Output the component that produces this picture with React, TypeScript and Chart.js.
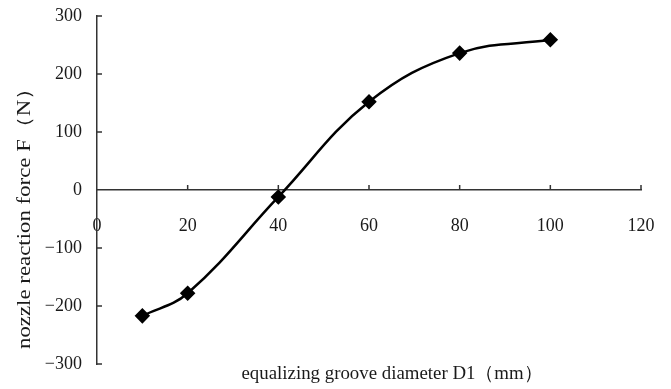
import React, { useEffect, useRef } from "react";
import { Chart, registerables } from "chart.js";

Chart.register(...registerables);

const diameters = [10, 20, 40, 60, 80, 100];
const forces = [-217, -178, -12, 152, 236, 259];
const xTicks = [0, 20, 40, 60, 80, 100, 120];
const yTicks = [-300, -200, -100, 0, 100, 200, 300];
const xTitle = "equalizing groove diameter D1（mm）";
const yTitle = "nozzle reaction force F（N）";

const FONT = "'Liberation Serif', 'DejaVu Serif', serif";
const AXIS_COLOR = "#333333";

function drawFitted(ctx: any, text: string, width: number) {
  const w = ctx.measureText(text).width;
  ctx.save();
  ctx.scale(width / w, 1);
  ctx.fillText(text, 0, 0);
  ctx.restore();
}

const extras = {
  id: "extras",
  afterDraw(chart: any) {
    const ctx = chart.ctx;
    const xs = chart.scales.x;
    const ys = chart.scales.y;
    const x0 = xs.getPixelForValue(0);
    const y0 = ys.getPixelForValue(0);
    ctx.save();
    ctx.strokeStyle = AXIS_COLOR;
    ctx.lineWidth = 1.5;
    ctx.beginPath();
    yTicks.forEach((v) => {
      if (v === 0) return;
      const p = ys.getPixelForValue(v);
      ctx.moveTo(x0, p);
      ctx.lineTo(x0 + 5, p);
    });
    xTicks.forEach((v) => {
      if (v === 0) return;
      const p = xs.getPixelForValue(v);
      ctx.moveTo(p, y0);
      ctx.lineTo(p, y0 - 5);
    });
    ctx.stroke();
    ctx.fillStyle = "#1a1a1a";
    ctx.font = `19px ${FONT}`;
    ctx.textAlign = "center";
    ctx.textBaseline = "middle";
    ctx.save();
    ctx.translate(392, 374);
    drawFitted(ctx, xTitle, 301);
    ctx.restore();
    ctx.save();
    ctx.translate(25, 213);
    ctx.rotate(-Math.PI / 2);
    drawFitted(ctx, yTitle, 272);
    ctx.restore();
    ctx.restore();
  },
};

const fmt = (v: any) => String(v).replace("-", "\u2212");

export default function App() {
  const ref = useRef<HTMLCanvasElement>(null);
  useEffect(() => {
    document.body.style.margin = "0";
    const chart = new Chart(ref.current!, {
      type: "line",
      data: {
        datasets: [
          {
            data: diameters.map((d, i) => ({ x: d, y: forces[i] })),
            borderColor: "#000",
            backgroundColor: "#000",
            borderWidth: 2.5,
            pointStyle: "rectRot",
            pointRadius: 6,
            pointHoverRadius: 6,
            tension: 0.4,
            fill: false,
          },
        ],
      },
      options: {
        animation: false,
        responsive: false,
        layout: { padding: { top: 16, right: 30, bottom: 25, left: 0 } },
        plugins: { legend: { display: false }, tooltip: { enabled: false } },
        scales: {
          x: {
            type: "linear",
            position: { y: 0 } as any,
            min: 0,
            max: 120,
            afterBuildTicks: (s: any) => {
              s.ticks = xTicks.map((v) => ({ value: v }));
            },
            afterFit: (s: any) => {
              s.paddingLeft = 0;
              s.paddingRight = 0;
            },
            grid: { display: true, drawOnChartArea: false, drawTicks: false },
            border: { color: AXIS_COLOR, width: 1.5 },
            ticks: { padding: 25, color: "#1a1a1a", font: { family: FONT, size: 18 }, callback: fmt },
          },
          y: {
            type: "linear",
            position: "left",
            min: -300,
            max: 300,
            afterBuildTicks: (s: any) => {
              s.ticks = yTicks.map((v) => ({ value: v }));
            },
            afterFit: (s: any) => {
              s.width = 97;
              s.paddingTop = 0;
              s.paddingBottom = 0;
            },
            grid: { display: true, drawOnChartArea: false, drawTicks: false },
            border: { color: AXIS_COLOR, width: 1.5 },
            ticks: { padding: 15, color: "#1a1a1a", font: { family: FONT, size: 18 }, callback: fmt },
          },
        },
      },
      plugins: [extras],
    });
    return () => chart.destroy();
  }, []);
  return (
    <div style={{ position: "absolute", left: 0, top: 0, width: 671, height: 389 }}>
      <canvas ref={ref} width={671} height={389} />
    </div>
  );
}
